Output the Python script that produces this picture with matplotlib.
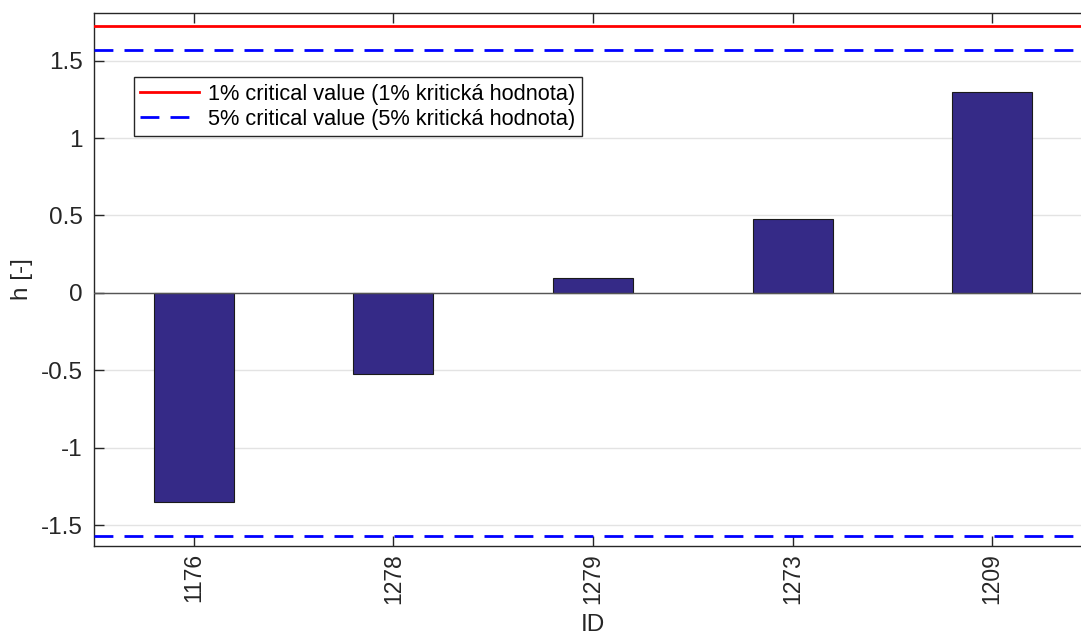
import numpy as np
import matplotlib.pyplot as plt

# data
ids = ['1176', '1278', '1279', '1273', '1209']
h_values = [-1.35, -0.524, 0.096, 0.477, 1.296]
crit_1 = 1.722
crit_5 = 1.569

plt.rcParams['font.family'] = ['Liberation Sans', 'DejaVu Sans']

fig = plt.figure(figsize=(10.81, 6.35), dpi=100)
ax = fig.add_axes([94 / 1081, 1 - 546 / 635, 998 / 1081, 533 / 635])

x = np.arange(1, len(ids) + 1)
ax.bar(x, h_values, width=0.4, color='#352A87', edgecolor='#1a1a1a',
       linewidth=0.8, zorder=3)
ax.axhline(0, color='#555555', linewidth=1, zorder=4)

ax.axhline(crit_1, color='#ff0000', linewidth=2, zorder=5,
           label='1% critical value (1% kritická hodnota)')
ax.axhline(-crit_1, color='#ff0000', linewidth=2, zorder=5)
ax.axhline(crit_5, color='#0000ff', linewidth=2, dashes=(6.8, 4), zorder=5,
           label='5% critical value (5% kritická hodnota)')
ax.axhline(-crit_5, color='#0000ff', linewidth=2, dashes=(6.8, 4), zorder=5)

ax.set_xlim(0.5, 5.5)
ax.set_ylim(-1.635, 1.808)
ax.set_yticks([-1.5, -1, -0.5, 0, 0.5, 1, 1.5])
ax.set_yticklabels(['-1.5', '-1', '-0.5', '0', '0.5', '1', '1.5'])
ax.set_xticks(x)
ax.set_xticklabels(ids, rotation=90)

ax.yaxis.grid(True, color='#e3e3e3', linewidth=1, zorder=0)
ax.set_axisbelow(True)

for s in ax.spines.values():
    s.set_color('#262626')
    s.set_linewidth(1)
ax.spines['right'].set_visible(False)

ax.tick_params(axis='both', direction='in', length=7, width=1,
               color='#262626', labelcolor='#262626', labelsize=17.5,
               top=True, right=False, pad=8)
ax.tick_params(axis='x', pad=5, labelsize=16.5)

ax.set_ylabel('h [-]', fontsize=17.5, color='#262626')
ax.yaxis.set_label_coords((33 - 94) / 998, 0.5)
ax.set_xlabel('ID', fontsize=17.5, color='#262626')
ax.xaxis.set_label_coords(0.5, (546 - 614) / 533)

leg = ax.legend(loc='upper left', bbox_to_anchor=(0.040, 0.880),
                borderaxespad=0, fontsize=15.7, fancybox=False,
                framealpha=1, edgecolor='#262626', handlelength=2.7,
                handletextpad=0.4, borderpad=0.3, labelspacing=0.2)
leg.get_frame().set_linewidth(1)

fig.savefig('out.png', dpi=100)
